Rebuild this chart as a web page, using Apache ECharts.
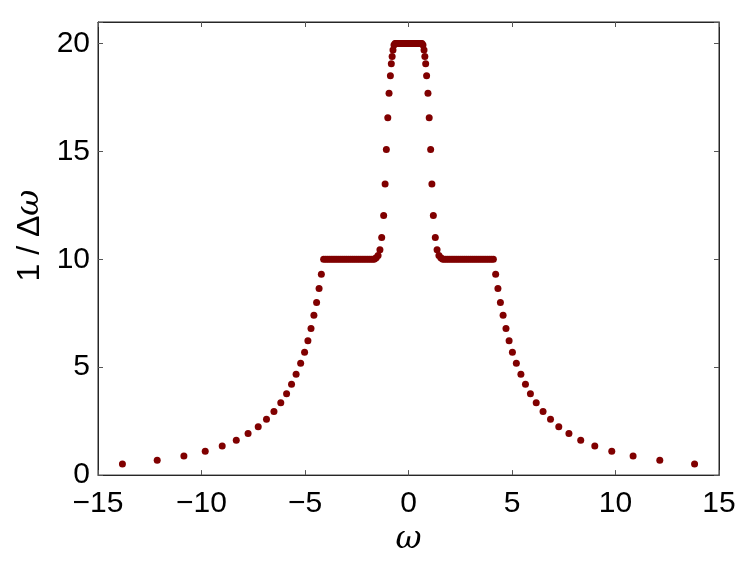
<!DOCTYPE html>
<html>
<head>
<meta charset="utf-8">
<script src="https://cdn.jsdelivr.net/npm/echarts@6/dist/echarts.min.js"></script>
<style>
  html, body { margin: 0; padding: 0; background: #fff; }
  #chart { width: 747px; height: 561px; }
</style>
</head>
<body>
<div id="chart"></div>
<script>
// frequency grid points (omega) and local density 1/delta-omega
const omega = [
  -13.82, -12.14, -10.85, -9.82, -9.00, -8.32, -7.75, -7.26, -6.86, -6.50, -6.17,
  -5.89, -5.65, -5.43, -5.21, -5.02, -4.86, -4.71, -4.57, -4.44, -4.32, -4.21,
  -4.1, -4.0, -3.9, -3.8, -3.7, -3.6, -3.5, -3.4, -3.3, -3.2, -3.1, -3.0, -2.9,
  -2.8, -2.7, -2.6, -2.5, -2.4, -2.3, -2.2, -2.1, -2.0, -1.9, -1.8, -1.7,
  -1.64, -1.56, -1.47, -1.38, -1.295, -1.20, -1.13, -1.07, -1.00, -0.94, -0.875,
  -0.83, -0.79, -0.75, -0.70,
  -0.65, -0.60, -0.55, -0.50, -0.45, -0.40, -0.35, -0.30, -0.25, -0.20, -0.15,
  -0.10, -0.05, 0.00, 0.05, 0.10, 0.15, 0.20, 0.25, 0.30, 0.35, 0.40, 0.45, 0.50,
  0.55, 0.60, 0.65,
  0.70, 0.75, 0.79, 0.83, 0.875, 0.94, 1.00, 1.07, 1.13, 1.20, 1.295, 1.38,
  1.47, 1.56, 1.64,
  1.7, 1.8, 1.9, 2.0, 2.1, 2.2, 2.3, 2.4, 2.5, 2.6, 2.7, 2.8, 2.9, 3.0, 3.1,
  3.2, 3.3, 3.4, 3.5, 3.6, 3.7, 3.8, 3.9, 4.0, 4.1,
  4.21, 4.32, 4.44, 4.57, 4.71, 4.86, 5.02, 5.21, 5.43, 5.65, 5.89, 6.17, 6.50,
  6.86, 7.26, 7.75, 8.32, 9.00, 9.82, 10.85, 12.14, 13.82
]

const invDw = [
  0.51, 0.69, 0.89, 1.11, 1.35, 1.62, 1.93, 2.24, 2.59, 2.95, 3.35,
  3.77, 4.21, 4.67, 5.18, 5.69, 6.23, 6.80, 7.41, 8.00, 8.65, 9.31,
  10, 10, 10, 10, 10, 10, 10, 10, 10, 10, 10, 10, 10,
  10, 10, 10, 10, 10, 10, 10, 10, 10, 10, 10, 10,
  10.02, 10.07, 10.18, 10.44, 11.01, 12.03, 13.49, 15.09, 16.56, 17.70, 18.51,
  19.07, 19.40, 19.70, 19.93,
  20, 20, 20, 20, 20, 20, 20, 20, 20, 20, 20,
  20, 20, 20, 20, 20, 20, 20, 20, 20, 20, 20, 20, 20,
  20, 20, 20,
  19.93, 19.70, 19.40, 19.07, 18.51, 17.70, 16.56, 15.09, 13.49, 12.03, 11.01, 10.44,
  10.18, 10.07, 10.02,
  10, 10, 10, 10, 10, 10, 10, 10, 10, 10, 10, 10, 10, 10, 10,
  10, 10, 10, 10, 10, 10, 10, 10, 10, 10,
  9.31, 8.65, 8.00, 7.41, 6.80, 6.23, 5.69, 5.18, 4.67, 4.21, 3.77, 3.35, 2.95,
  2.59, 2.24, 1.93, 1.62, 1.35, 1.11, 0.89, 0.69, 0.51
]

const xTicks = [-15, -10, -5, 0, 5, 10, 15]
const yTicks = [0, 5, 10, 15, 20]

const axisColor = '#262626'
const fontFamily = 'Liberation Sans, Arial, sans-serif'
const fmt = v => (v < 0 ? '\u2212' + Math.abs(v) : String(v))

const chart = echarts.init(document.getElementById('chart'), null, { renderer: 'canvas' })

const tickStyle = { show: true, inside: true, length: 5, lineStyle: { color: '#555', width: 1 } }
const lineStyle = { show: true, onZero: false, lineStyle: { color: axisColor, width: 1 } }

chart.setOption({
  animation: false,
  backgroundColor: '#fff',
  grid: {
    left: 98, top: 22, width: 621, height: 465.5,
    show: true, borderColor: axisColor, borderWidth: 1
  },
  xAxis: [{
    type: 'value',
    min: xTicks[0], max: xTicks[xTicks.length - 1], interval: 5,
    position: 'bottom',
    axisLine: lineStyle, axisTick: tickStyle, splitLine: { show: false },
    axisLabel: {
      color: '#000', fontSize: 30, fontFamily, margin: 14,
      formatter: v => (xTicks.includes(v) ? fmt(v) : '')
    },
    name: 'ω',
    nameLocation: 'middle',
    nameGap: 48,
    nameTextStyle: { color: '#000', fontSize: 32, fontStyle: 'italic', fontFamily: 'DejaVu Serif, serif' }
  }, {
    type: 'value',
    min: xTicks[0], max: xTicks[xTicks.length - 1], interval: 5,
    position: 'top',
    axisLine: lineStyle, axisTick: tickStyle, splitLine: { show: false },
    axisLabel: { show: false }
  }],
  yAxis: [{
    type: 'value',
    min: 0, max: 21, interval: 5,
    position: 'left',
    axisLine: lineStyle, axisTick: tickStyle, splitLine: { show: false },
    axisLabel: {
      color: '#000', fontSize: 30, fontFamily, margin: 8,
      formatter: v => (yTicks.includes(v) ? fmt(v) : '')
    },
    name: '{n|1 / Δ}{w|ω}',
    nameLocation: 'middle',
    nameGap: 46,
    nameTextStyle: {
      color: '#000', padding: [0, 0, 0, 26],
      rich: {
        n: { fontSize: 32, fontFamily, color: '#000' },
        w: { fontSize: 32, fontStyle: 'italic', fontFamily: 'DejaVu Serif, serif', color: '#000' }
      }
    }
  }, {
    type: 'value',
    min: 0, max: 21, interval: 5,
    position: 'right',
    axisLine: lineStyle, axisTick: tickStyle, splitLine: { show: false },
    axisLabel: { show: false }
  }],
  series: [{
    type: 'scatter',
    data: omega.map((w, i) => [w, invDw[i]]),
    symbol: 'circle',
    symbolSize: 7,
    itemStyle: { color: '#800000', opacity: 1 }
  }]
})
</script>
</body>
</html>
